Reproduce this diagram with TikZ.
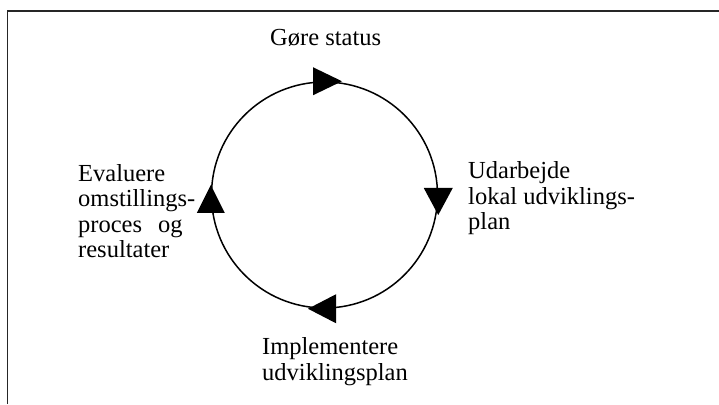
\documentclass[tikz,border=0pt]{standalone}
\usepackage{fontspec}
\setmainfont{Liberation Serif}
\begin{document}
\begin{tikzpicture}[x=1pt,y=1pt,
  lbl/.style={inner sep=0pt, anchor=base west, align=left, font=\fontsize{24.5}{25.5}\selectfont},
  tri/.style={fill=black}]
\useasboundingbox (0,0) rectangle (719,404);
% frame
\coordinate (fb) at (7.5,0);
\coordinate (ftl) at (7.5,393);
\coordinate (fr) at (719,393);
\draw[line width=1.7pt, black!85] (fb) -- (ftl) -- (fr);
% cycle
\node[circle, draw, line width=1.5pt, minimum size=226pt, inner sep=0pt] (c) at (324.5,209) {};
% arrowheads
\fill[tri] ([shift={(-11.5,14)}]c.north) -- ([shift={(17.5,0)}]c.north) -- ([shift={(-11.5,-14)}]c.north) -- cycle;
\fill[tri] ([shift={(-14.5,7)}]c.east) -- ([shift={(14.5,7)}]c.east) -- ([shift={(0,-20)}]c.east) -- cycle;
\fill[tri] ([shift={(11.5,14.5)}]c.south) -- ([shift={(-16.5,0)}]c.south) -- ([shift={(11.5,-14.5)}]c.south) -- cycle;
\fill[tri] ([shift={(-14,-18)}]c.west) -- ([shift={(0,10)}]c.west) -- ([shift={(14,-18)}]c.west) -- cycle;
% labels (anchor = baseline of last line)
\node[lbl] (top) at (270,358) {Gøre status};
\node[lbl] (right) at (468,174) {Udarbejde\\lokal udviklings-\\plan};
\node[lbl] (bottom) at (262,24) {Implementere\\udviklingsplan};
\node[lbl] (left) at (78,146) {Evaluere\\omstillings-\\proces\hspace{0.4em} og\\resultater};
\end{tikzpicture}
\end{document}
